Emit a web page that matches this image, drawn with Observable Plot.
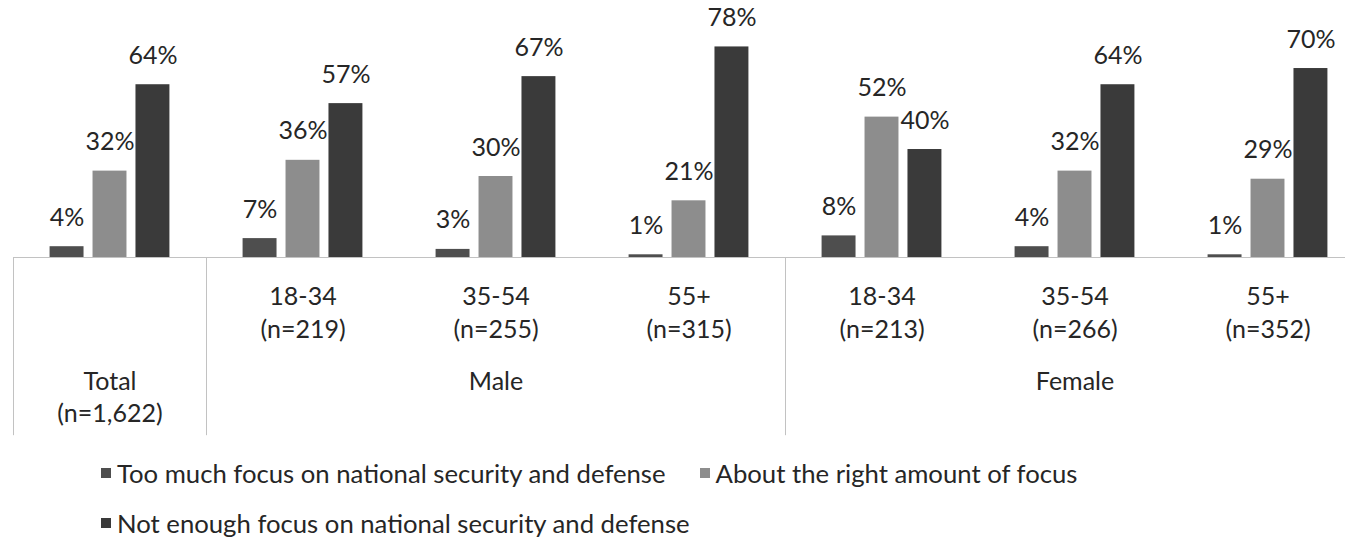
<!DOCTYPE html>
<html>
<head>
<meta charset="utf-8">
<script src="https://cdn.jsdelivr.net/npm/d3@7"></script>
<script src="https://cdn.jsdelivr.net/npm/@observablehq/plot@0.6"></script>
<style>
  html, body { margin: 0; padding: 0; background: #fff; overflow: hidden; }
  body { width: 1345px; height: 540px; font-family: Lato, "Liberation Sans", sans-serif; color: #262626; }
  #chart svg { display: block; }
  .legend { display: flex; flex-wrap: wrap; width: 1050px; margin-top: 8px; padding-left: 101px; font-size: 25.7px; line-height: 50px; }
  .legend .item { display: inline-flex; align-items: center; margin-right: 34px; white-space: nowrap; }
  .legend .sw { display: inline-block; width: 10px; height: 10px; margin-right: 6px; }
</style>
</head>
<body>
<div id="chart"></div>
<div class="legend" id="legend"></div>
<script>
// ---- data ----
const groups = ["Total", "Male 18-34", "Male 35-54", "Male 55+", "Female 18-34", "Female 35-54", "Female 55+"];
const groupLabels = ["Total\n(n=1,622)", "18-34\n(n=219)", "35-54\n(n=255)", "55+\n(n=315)", "18-34\n(n=213)", "35-54\n(n=266)", "55+\n(n=352)"];
const seriesNames = [
  "Too much focus on national security and defense",
  "About the right amount of focus",
  "Not enough focus on national security and defense"
];
const tooMuch    = [4, 7, 3, 1, 8, 4, 1];
const aboutRight = [32, 36, 30, 21, 52, 32, 29];
const notEnough  = [64, 57, 67, 78, 40, 64, 70];
const genderLabels = ["Male", "Female"];
const genderAnchorGroups = ["Male 35-54", "Female 35-54"];
const separatorGroups = ["Total", "Male 18-34", "Female 18-34"];
const colors = ["#4e4e4e", "#8d8d8d", "#3a3a3a"];

// ---- table ----
const data = groups.flatMap((g, i) =>
  [tooMuch[i], aboutRight[i], notEnough[i]].map((v, j) => ({group: g, series: seriesNames[j], pos: j, value: v}))
);
const topLabels = groups.map((g, i) => ({group: g, label: groupLabels[i], top: i > 0}));
const genderData = genderLabels.map((l, i) => ({group: genderAnchorGroups[i], label: l}));

const xDomain = [-1.247, 3.247];
const fs = 25;

const chart = Plot.plot({
  width: 1365,
  height: 440,
  marginLeft: 12,
  marginRight: 0,
  marginTop: 0,
  marginBottom: 183,
  style: {maxWidth: "none", overflow: "visible", fontFamily: "Lato, 'Liberation Sans', sans-serif", color: "#262626", background: "transparent"},
  fx: {domain: groups, padding: 0, axis: null},
  x: {domain: xDomain, axis: null},
  y: {domain: [0, 95.2], axis: null},
  color: {domain: seriesNames, range: colors},
  marks: [
    Plot.ruleY([0], {stroke: "#c2c2c2", strokeWidth: 1}),
    Plot.ruleX(separatorGroups, {fx: d => d, x: xDomain[0], y1: 0, y2: -66, stroke: "#c2c2c2", strokeWidth: 1}),
    Plot.rectY(data, {fx: "group", x1: d => d.pos - 0.5, x2: d => d.pos + 0.5, y1: 0, y2: "value", fill: "series", insetLeft: 4.5, insetRight: 4.5}),
    Plot.text(data, {fx: "group", x: "pos", y: "value", text: d => d.value + "%", dy: -21, lineAnchor: "bottom", fontSize: fs, fill: "#262626"}),
    Plot.text(topLabels.filter(d => d.top), {fx: "group", x: 1, frameAnchor: "bottom", text: "label", lineAnchor: "top", dy: 24, lineHeight: 1.32, fontSize: fs, fill: "#262626"}),
    Plot.text(topLabels.filter(d => !d.top), {fx: "group", x: 1, frameAnchor: "bottom", text: "label", lineAnchor: "top", dy: 110, lineHeight: 1.28, fontSize: fs, fill: "#262626"}),
    Plot.text(genderData, {fx: "group", x: 1, frameAnchor: "bottom", text: "label", lineAnchor: "top", dy: 115, fontSize: fs, fill: "#262626"})
  ]
});
document.getElementById("chart").appendChild(chart);

// ---- legend ----
const color = chart.scale("color");
const legend = d3.select("#legend");
seriesNames.forEach((name, i) => {
  const it = legend.append("span").attr("class", "item");
  it.append("span").attr("class", "sw").style("background", color.range[i]);
  it.append("span").text(name);
});
</script>
</body>
</html>
